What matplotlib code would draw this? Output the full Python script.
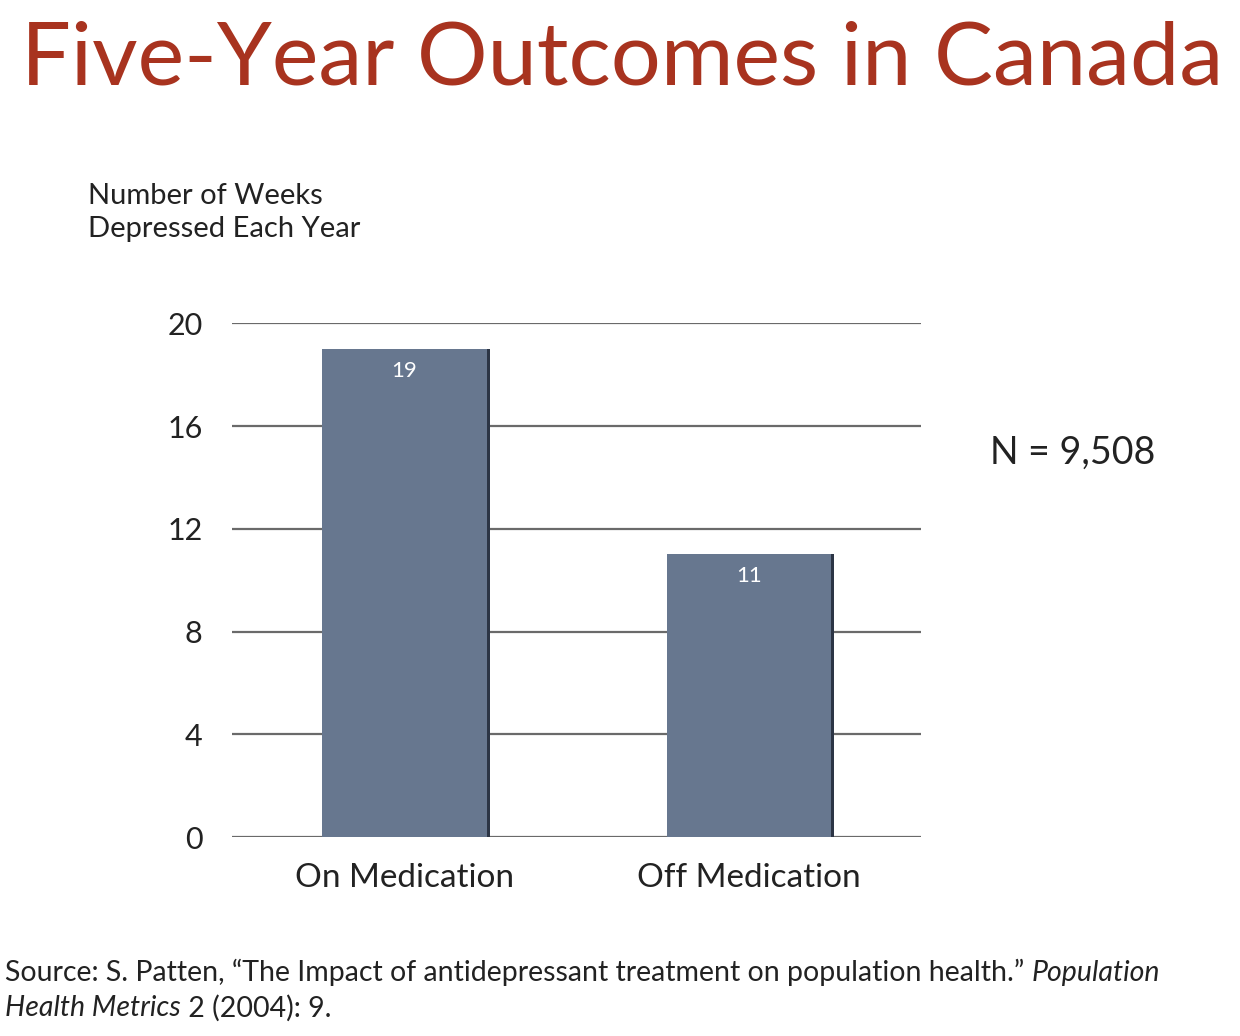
import matplotlib
matplotlib.use("Agg")
import matplotlib.pyplot as plt

# data
categories = ["On Medication", "Off Medication"]
weeks_depressed = [19, 11]
y_ticks = [0, 4, 8, 12, 16, 20]

title = "Five-Year Outcomes in Canada"
y_label = "Number of Weeks\nDepressed Each Year"
n_note = "N = 9,508"

plt.rcParams['font.family'] = ['Lato', 'DejaVu Sans']

bar_color = '#67778f'
shadow_color = '#2c3545'
grid_color = '#6a6a6a'
text_color = '#222222'

fig = plt.figure(figsize=(12.4, 10.36), dpi=100)
ax = fig.add_axes([0.187, 0.192, 0.556, 0.496])

x = list(range(len(categories)))
width = 0.478

# gridlines behind bars
for t in y_ticks:
    ax.axhline(t, color=grid_color, lw=1.6, zorder=1)

# dark right edge shadow, then the bar itself
ax.bar([i + 0.009 for i in x], weeks_depressed, width=width, color=shadow_color, zorder=2)
bars = ax.bar(x, weeks_depressed, width=width, color=bar_color, zorder=3)

for b, v in zip(bars, weeks_depressed):
    ax.text(b.get_x() + b.get_width() / 2, v - 0.85, str(v), ha='center', va='center',
            color='white', fontsize=16, zorder=4)

ax.set_xlim(-0.5, 1.5)
ax.set_ylim(0, 20)
ax.set_yticks(y_ticks)
ax.set_yticklabels([str(t) for t in y_ticks], fontsize=22, color=text_color)
ax.set_xticks(x)
ax.set_xticklabels(categories, fontsize=24, color=text_color)
ax.tick_params(axis='both', length=0)
ax.tick_params(axis='y', pad=21)
ax.tick_params(axis='x', pad=19)
for s in ax.spines.values():
    s.set_visible(False)

fig.text(0.502, 0.942, title, ha='center', va='center', fontsize=63.5, color='#a8331f')
fig.text(0.071, 0.795, y_label, ha='left', va='center', fontsize=21,
         color=text_color, linespacing=1.3)
fig.text(0.798, 0.563, n_note, ha='left', va='center', fontsize=27, color=text_color)

fs = 20.5
fig.text(0.004, 0.061, "Source: S. Patten, \u201cThe Impact of antidepressant treatment on population health.\u201d ",
         ha='left', va='center', fontsize=fs, color=text_color)
fig.canvas.draw()
first = fig.texts[-1].get_window_extent()
fig.text(first.x1 / fig.bbox.width, 0.061, "Population", ha='left', va='center',
         fontsize=fs, style='italic', color=text_color)
fig.text(0.004, 0.027, "Health Metrics", ha='left', va='center', fontsize=fs,
         style='italic', color=text_color)
fig.canvas.draw()
second = fig.texts[-1].get_window_extent()
fig.text(second.x1 / fig.bbox.width, 0.027, " 2 (2004): 9.", ha='left', va='center',
         fontsize=fs, color=text_color)

fig.savefig("out.png", dpi=100, facecolor='white')
